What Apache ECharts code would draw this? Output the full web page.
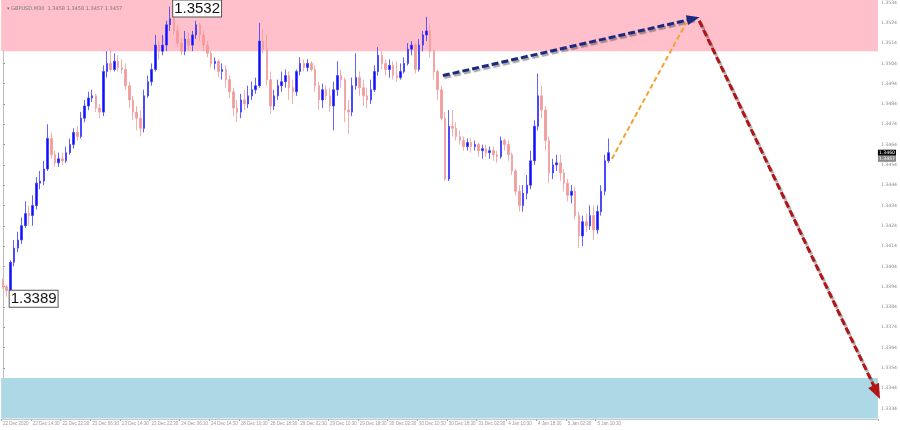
<!DOCTYPE html>
<html><head><meta charset="utf-8">
<script src="https://cdn.jsdelivr.net/npm/echarts@6/dist/echarts.min.js"></script>
<style>html,body{margin:0;padding:0;background:#fff}#c{width:900px;height:430px}</style>
</head><body><div id="c"></div>
<script>
const headerText = '\u25BE GBPUSD,M30  1.3458 1.3458 1.3457 1.3457';
const tickLabels = ["22 Dec 2020","22 Dec 14:30","22 Dec 22:30","23 Dec 06:30","23 Dec 14:30","23 Dec 22:30","24 Dec 06:30","24 Dec 14:30","28 Dec 10:30","28 Dec 18:30","29 Dec 02:30","29 Dec 10:30","29 Dec 18:30","30 Dec 02:30","30 Dec 10:30","30 Dec 18:30","31 Dec 02:30","4 Jan 10:30","4 Jan 18:30","5 Jan 02:30","5 Jan 10:30"];
const priceTicks = [1.3334,1.3344,1.3354,1.3364,1.3374,1.3384,1.3394,1.3404,1.3414,1.3424,1.3434,1.3444,1.3454,1.3464,1.3474,1.3484,1.3494,1.3504,1.3514,1.3524,1.3534];

const open = [1.3396,1.3394,1.3392,1.3406,1.3413,1.3417,1.3424,1.3430,1.3429,1.3434,
1.3445,1.3446,1.3452,1.3467,1.3459,1.3455,1.3457,1.3456,1.3460,1.3464,
1.3470,1.3468,1.3477,1.3483,1.3487,1.3488,1.3482,1.3480,1.3500,1.3504,
1.3501,1.3505,1.3502,1.3501,1.3493,1.3486,1.3480,1.3477,1.3472,1.3488,
1.3495,1.3501,1.3513,1.3510,1.3513,1.3523,1.3526,1.3520,1.3514,1.3510,
1.3516,1.3513,1.3518,1.3523,1.3518,1.3513,1.3509,1.3504,1.3505,1.3500,
1.3501,1.3496,1.3490,1.3482,1.3480,1.3486,1.3484,1.3488,1.3491,1.3493,
1.3515,1.3511,1.3496,1.3483,1.3488,1.3493,1.3495,1.3498,1.3492,1.3490,
1.3500,1.3504,1.3502,1.3504,1.3501,1.3493,1.3486,1.3491,1.3488,1.3483,
1.3491,1.3498,1.3496,1.3481,1.3480,1.3493,1.3497,1.3492,1.3488,1.3486,
1.3491,1.3500,1.3508,1.3504,1.3501,1.3503,1.3498,1.3497,1.3500,1.3504,
1.3511,1.3513,1.3501,1.3513,1.3518,1.3520,1.3510,1.3500,1.3491,1.3477,
1.3447,1.3473,1.3472,1.3468,1.3466,1.3463,1.3465,1.3463,1.3464,1.3461,
1.3462,1.3460,1.3461,1.3459,1.3458,1.3466,1.3464,1.3459,1.3451,1.3441,
1.3434,1.3440,1.3444,1.3456,1.3473,1.3488,1.3481,1.3466,1.3450,1.3454,
1.3455,1.3450,1.3445,1.3439,1.3441,1.3429,1.3419,1.3426,1.3424,1.3429,
1.3422,1.3431,1.3441,1.3456];
const close = [1.3394,1.3392,1.3406,1.3413,1.3417,1.3424,1.3430,1.3429,1.3434,1.3445,
1.3446,1.3452,1.3467,1.3459,1.3455,1.3457,1.3456,1.3460,1.3464,1.3470,
1.3468,1.3477,1.3483,1.3487,1.3488,1.3482,1.3480,1.3500,1.3504,1.3501,
1.3505,1.3502,1.3501,1.3493,1.3486,1.3480,1.3477,1.3472,1.3488,1.3495,
1.3501,1.3513,1.3510,1.3513,1.3523,1.3526,1.3520,1.3514,1.3510,1.3516,
1.3513,1.3518,1.3523,1.3518,1.3513,1.3509,1.3504,1.3505,1.3500,1.3501,
1.3496,1.3490,1.3482,1.3480,1.3486,1.3484,1.3488,1.3491,1.3493,1.3515,
1.3511,1.3496,1.3483,1.3488,1.3493,1.3495,1.3498,1.3492,1.3490,1.3500,
1.3504,1.3502,1.3504,1.3501,1.3493,1.3486,1.3491,1.3488,1.3483,1.3491,
1.3498,1.3496,1.3481,1.3480,1.3493,1.3497,1.3492,1.3488,1.3486,1.3491,
1.3500,1.3508,1.3504,1.3501,1.3503,1.3498,1.3497,1.3500,1.3504,1.3511,
1.3513,1.3501,1.3513,1.3518,1.3520,1.3510,1.3500,1.3491,1.3477,1.3447,
1.3473,1.3472,1.3468,1.3466,1.3463,1.3465,1.3463,1.3464,1.3461,1.3462,
1.3460,1.3461,1.3459,1.3458,1.3466,1.3464,1.3459,1.3451,1.3441,1.3434,
1.3440,1.3444,1.3456,1.3473,1.3488,1.3481,1.3466,1.3450,1.3454,1.3455,
1.3450,1.3445,1.3439,1.3441,1.3429,1.3419,1.3426,1.3424,1.3429,1.3422,
1.3431,1.3441,1.3456,1.3460];
const low = [1.3393,1.3389,1.3389,1.3404,1.3411,1.3415,1.3423,1.3424,1.3424,1.3432,
1.3442,1.3444,1.3451,1.3457,1.3453,1.3453,1.3454,1.3455,1.3459,1.3462,
1.3466,1.3467,1.3475,1.3481,1.3485,1.3480,1.3477,1.3478,1.3497,1.3500,
1.3500,1.3500,1.3499,1.3491,1.3482,1.3476,1.3471,1.3468,1.3470,1.3487,
1.3493,1.3500,1.3506,1.3508,1.3510,1.3520,1.3518,1.3512,1.3508,1.3508,
1.3510,1.3510,1.3516,1.3515,1.3510,1.3507,1.3502,1.3501,1.3497,1.3496,
1.3492,1.3487,1.3478,1.3475,1.3477,1.3481,1.3482,1.3486,1.3489,1.3492,
1.3509,1.3493,1.3479,1.3481,1.3486,1.3490,1.3492,1.3486,1.3484,1.3488,
1.3498,1.3500,1.3500,1.3500,1.3490,1.3481,1.3482,1.3486,1.3480,1.3471,
1.3488,1.3492,1.3475,1.3469,1.3478,1.3491,1.3488,1.3483,1.3482,1.3484,
1.3490,1.3498,1.3501,1.3498,1.3497,1.3496,1.3495,1.3496,1.3499,1.3503,
1.3508,1.3499,1.3500,1.3510,1.3515,1.3507,1.3496,1.3486,1.3476,1.3446,
1.3446,1.3468,1.3466,1.3464,1.3461,1.3461,1.3460,1.3461,1.3458,1.3457,
1.3458,1.3457,1.3456,1.3455,1.3457,1.3461,1.3456,1.3449,1.3439,1.3431,
1.3431,1.3437,1.3442,1.3454,1.3471,1.3477,1.3461,1.3445,1.3447,1.3451,
1.3446,1.3441,1.3436,1.3435,1.3427,1.3413,1.3414,1.3421,1.3422,1.3417,
1.3420,1.3429,1.3439,1.3455];
const high = [1.3398,1.3395,1.3407,1.3417,1.3421,1.3428,1.3436,1.3434,1.3439,1.3448,
1.3451,1.3456,1.3474,1.3470,1.3461,1.3460,1.3460,1.3463,1.3467,1.3472,
1.3473,1.3480,1.3486,1.3490,1.3491,1.3489,1.3484,1.3503,1.3510,1.3511,
1.3509,1.3508,1.3506,1.3504,1.3495,1.3488,1.3483,1.3481,1.3491,1.3498,
1.3504,1.3518,1.3515,1.3518,1.3525,1.3532,1.3529,1.3523,1.3516,1.3520,
1.3519,1.3520,1.3525,1.3524,1.3520,1.3515,1.3510,1.3507,1.3506,1.3504,
1.3503,1.3498,1.3492,1.3486,1.3489,1.3491,1.3493,1.3495,1.3497,1.3524,
1.3521,1.3518,1.3500,1.3491,1.3496,1.3500,1.3501,1.3500,1.3496,1.3501,
1.3507,1.3506,1.3506,1.3505,1.3503,1.3495,1.3494,1.3493,1.3492,1.3495,
1.3505,1.3501,1.3497,1.3486,1.3497,1.3509,1.3500,1.3496,1.3492,1.3496,
1.3503,1.3512,1.3510,1.3506,1.3506,1.3505,1.3505,1.3504,1.3507,1.3514,
1.3515,1.3514,1.3516,1.3520,1.3527,1.3523,1.3511,1.3501,1.3493,1.3480,
1.3481,1.3481,1.3475,1.3471,1.3468,1.3467,1.3467,1.3466,1.3465,1.3464,
1.3464,1.3463,1.3463,1.3461,1.3468,1.3467,1.3466,1.3460,1.3452,1.3444,
1.3444,1.3449,1.3461,1.3476,1.3499,1.3493,1.3483,1.3468,1.3457,1.3459,
1.3459,1.3452,1.3447,1.3444,1.3443,1.3431,1.3429,1.3430,1.3434,1.3434,
1.3434,1.3444,1.3459,1.3467];

const sellZone = [1.3510, 1.3536];
const buyZone = [1.3329, 1.3349];
const extremes = [[45, 1.3532], [1, 1.3389]];
const quotes = [1.3460, 1.3457];
// arrow end points: [bar position, price]
const waveNavy = [[118.4, 1.3498], [185.8, 1.3526]];
const waveOrange = [[163.9, 1.3457], [183.9, 1.3524]];
const waveRed = [[187.4, 1.3525], [235.2, 1.3342]];
const slotCount = 236;

const cats = [];
for (let i = 0; i < slotCount; i++) cats.push(String(i));
const candles = open.map((o, i) => [o, close[i], low[i], high[i]]);

function arrow(points, color, width, dash, head, shadow) {
  return {
    type: 'line', xAxisIndex: 1, yAxisIndex: 0, data: [], z: 5,
    markLine: {
      silent: true, animation: false,
      symbol: head ? ['none', 'triangle'] : ['none', 'none'],
      symbolSize: head || 0,
      label: { show: false },
      lineStyle: Object.assign({ color: color, width: width, type: dash, opacity: 1 },
        shadow ? { shadowColor: 'rgba(60,60,60,0.45)', shadowBlur: 1, shadowOffsetX: 1.5, shadowOffsetY: 2 } : {}),
      emphasis: { disabled: true },
      data: [[{ coord: points[0] }, { coord: points[1] }]]
    }
  };
}

const showTick = (i) => i % 8 === 0 && i / 8 < tickLabels.length;

const chart = echarts.init(document.getElementById('c'), null, { renderer: 'canvas' });
chart.setOption({
  animation: false,
  backgroundColor: '#ffffff',
  title: { text: headerText, left: 2, top: 1, textStyle: { fontSize: 5, color: '#777', fontWeight: 'normal', fontFamily: 'DejaVu Sans' } },
  grid: { left: 0, right: 17, top: 0, bottom: 11, containLabel: false },
  xAxis: [{
    type: 'category', data: cats, boundaryGap: true,
    axisLine: { show: true, lineStyle: { color: '#c8c8c8' } },
    axisTick: { show: true, length: 2, interval: showTick, lineStyle: { color: '#aaa' } },
    axisLabel: {
      interval: showTick, showMinLabel: true, hideOverlap: false,
      formatter: (v, i) => tickLabels[i / 8] || '',
      align: 'left', margin: 2, fontSize: 4.5, color: '#999', fontFamily: 'Liberation Sans'
    },
    splitLine: { show: false }
  }, {
    type: 'value', min: -0.5, max: slotCount - 0.5, show: false
  }],
  yAxis: {
    type: 'value', position: 'right', min: 1.33288, max: 1.35352, scale: true,
    axisLine: { show: true, lineStyle: { color: '#bdbdbd' } },
    axisTick: { show: true, length: 2, customValues: priceTicks, lineStyle: { color: '#999' } },
    axisLabel: { customValues: priceTicks, formatter: (v) => v.toFixed(4), fontSize: 4.6, color: '#888', margin: 3, fontFamily: 'DejaVu Sans' },
    splitLine: { show: false }
  },
  series: [
    {
      type: 'line', data: [], z: 1, silent: true,
      markArea: {
        silent: true,
        data: [
          [{ yAxis: sellZone[0], itemStyle: { color: '#ffc0cb' } }, { yAxis: sellZone[1] }],
          [{ yAxis: buyZone[0], itemStyle: { color: '#add8e6' } }, { yAxis: buyZone[1] }]
        ]
      }
    },
    {
      type: 'candlestick', data: candles, z: 3, barWidth: 2, silent: true,
      itemStyle: { color: '#1010ff', color0: '#f29b9b', borderColor: '#3a3aff', borderColor0: '#f29b9b', borderWidth: 0.8 },
      markPoint: {
        silent: true, symbol: 'circle', symbolSize: 0,
        label: {
          show: true, position: 'right', distance: 3, offset: [0, 2],
          formatter: (p) => p.value, fontSize: 15, color: '#111', fontFamily: 'Liberation Sans',
          backgroundColor: '#ffffff', borderColor: '#555', borderWidth: 1, padding: [1, 1, 0, 1]
        },
        data: extremes.map(e => ({ coord: [e[0], e[1]], value: e[1].toFixed(4) }))
      }
    },
    {
      type: 'line', xAxisIndex: 1, yAxisIndex: 0, data: [], z: 6, silent: true,
      markPoint: {
        silent: true, symbol: 'circle', symbolSize: 0,
        label: { show: true, position: 'right', distance: 0, formatter: (p) => p.value, fontSize: 4.6, padding: [1, 1, 0, 1], fontFamily: 'DejaVu Sans' },
        data: [
          { coord: [slotCount - 0.5, quotes[0]], value: quotes[0].toFixed(4), label: { backgroundColor: '#000', color: '#fff' } },
          { coord: [slotCount - 0.5, quotes[1]], value: quotes[1].toFixed(4), label: { backgroundColor: '#8a8a8a', color: '#fff' } }
        ]
      }
    },
    arrow(waveNavy, '#1b2a80', 3, [7, 3], [10, 13], true),
    arrow(waveOrange, '#f5a030', 2, [5, 3], 0, false),
    arrow(waveRed, '#b01518', 3, [7, 3], [12, 15], true)
  ]
});
</script>
</body></html>
